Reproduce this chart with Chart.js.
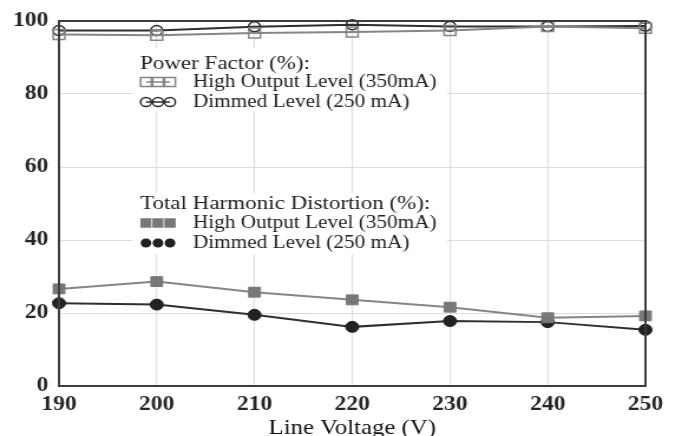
<!DOCTYPE html>
<html>
<head>
<meta charset="utf-8">
<script src="https://cdn.jsdelivr.net/npm/chart.js@4.4.1/dist/chart.umd.min.js"></script>
<style>
  html, body { margin: 0; padding: 0; background: #fff; overflow: hidden; }
  #wrap { position: absolute; left: 0; top: 0; width: 574px; height: 436px; transform: scaleX(1.18); transform-origin: 0 0; }
</style>
</head>
<body>
<div id="wrap"><canvas id="c"></canvas></div>
<script>
// ---- data ----
const voltages   = [190, 200, 210, 220, 230, 240, 250];
const pfHigh     = [96.3, 96.1, 96.7, 97.0, 97.4, 98.5, 98.0];
const pfDimmed   = [97.4, 97.4, 98.4, 99.0, 98.5, 98.5, 98.6];
const thdHigh    = [26.6, 28.6, 25.7, 23.6, 21.6, 18.7, 19.2];
const thdDimmed  = [22.7, 22.3, 19.5, 16.2, 17.8, 17.5, 15.4];
const xTicks     = [190, 200, 210, 220, 230, 240, 250];
const yTicks     = [0, 20, 40, 60, 80, 100];
const xTitle     = 'Line Voltage (V)';
const pfTitle    = 'Power Factor (%):';
const thdTitle   = 'Total Harmonic Distortion (%):';
const highLabel  = 'High Output Level (350mA)';
const dimLabel   = 'Dimmed Level (250 mA)';

const S = 1.18; // horizontal stretch of the page
const FONT = '"Liberation Serif", "Times New Roman", serif';
const GRAY = '#858585';
const DARK = '#2e2e2e';

const pts = arr => voltages.map((v, i) => ({ x: v, y: arr[i] }));

const datasets = [
  { label: 'PF ' + highLabel, data: pts(pfHigh), borderColor: GRAY, borderWidth: 2, clip: false,
    pointStyle: 'rect', pointRadius: 7, pointBackgroundColor: 'rgba(255,255,255,0)', pointBorderColor: GRAY, pointBorderWidth: 1.5 },
  { label: 'PF ' + dimLabel, data: pts(pfDimmed), borderColor: DARK, borderWidth: 2, clip: false,
    pointStyle: 'circle', pointRadius: 5, pointBackgroundColor: 'rgba(255,255,255,0)', pointBorderColor: DARK, pointBorderWidth: 1.5 },
  { label: 'THD ' + highLabel, data: pts(thdHigh), borderColor: GRAY, borderWidth: 2, clip: false,
    pointStyle: 'rect', pointRadius: 7, pointBackgroundColor: '#787878', pointBorderColor: '#787878', pointBorderWidth: 1 },
  { label: 'THD ' + dimLabel, data: pts(thdDimmed), borderColor: DARK, borderWidth: 2, clip: false,
    pointStyle: 'circle', pointRadius: 5.5, pointBackgroundColor: '#222', pointBorderColor: '#222', pointBorderWidth: 1 }
];

function drawMarker(ctx, style, x, y, r, fill, stroke) {
  ctx.save();
  ctx.fillStyle = fill; ctx.strokeStyle = stroke; ctx.lineWidth = 1.5;
  ctx.beginPath();
  if (style === 'rect') { const s = r * Math.SQRT1_2; ctx.rect(x - s, y - s, 2 * s, 2 * s); }
  else { ctx.arc(x, y, r, 0, Math.PI * 2); }
  ctx.fill(); ctx.stroke();
  ctx.restore();
}

const legendPlugin = {
  id: 'customLegend',
  beforeDatasetsDraw(chart) {
    const ctx = chart.ctx;
    const X = v => v / S;
    const blocks = [
      { box: [133, 48, 447, 112], title: pfTitle, ty: 64, rows: [
        { y: 82, text: highLabel, ds: datasets[0] },
        { y: 102, text: dimLabel, ds: datasets[1] } ], grid220: true },
      { box: [133, 193, 447, 254], title: thdTitle, ty: 204, rows: [
        { y: 223, text: highLabel, ds: datasets[2] },
        { y: 243, text: dimLabel, ds: datasets[3] } ], grid220: false }
    ];
    ctx.save();
    for (const b of blocks) {
      ctx.fillStyle = '#fff';
      ctx.fillRect(X(b.box[0]), b.box[1], X(b.box[2]) - X(b.box[0]), b.box[3] - b.box[1]);
      if (b.grid220) {
        const gx = chart.scales.x.getPixelForValue(220);
        ctx.strokeStyle = '#dcdcdc'; ctx.lineWidth = 1;
        ctx.beginPath(); ctx.moveTo(gx, b.box[1]); ctx.lineTo(gx, b.box[3]); ctx.stroke();
      }
      ctx.textBaseline = 'middle';
      ctx.textAlign = 'left';
      ctx.fillStyle = '#222';
      ctx.font = '19.5px ' + FONT;
      ctx.fillText(b.title, X(140), b.ty);
      ctx.font = '18px ' + FONT;
      for (const r of b.rows) {
        const d = r.ds;
        const open = d.pointBackgroundColor.indexOf('rgba') === 0;
        const x0 = X(146), x1 = X(170);
        const rr = d.pointStyle === 'rect' ? 6.5 : 4.6;
        const line = () => {
          ctx.strokeStyle = d.borderColor; ctx.lineWidth = 1.5;
          ctx.beginPath(); ctx.moveTo(x0, r.y); ctx.lineTo(x1, r.y); ctx.stroke();
        };
        if (!open) line();
        for (const xm of [x0, (x0 + x1) / 2, x1]) {
          drawMarker(ctx, d.pointStyle, xm, r.y, rr, open ? '#fff' : d.pointBackgroundColor, open ? d.pointBorderColor : '#fff');
          if (!open) drawMarker(ctx, d.pointStyle, xm, r.y, rr - 0.8, d.pointBackgroundColor, d.pointBackgroundColor);
        }
        if (open) line();
        ctx.fillStyle = '#222';
        ctx.fillText(r.text, X(193), r.y);
      }
    }
    ctx.restore();
  },
  afterDraw(chart) {
    const { ctx, chartArea: a } = chart;
    ctx.save();
    ctx.strokeStyle = '#3c3c3c'; ctx.lineWidth = 2;
    ctx.strokeRect(a.left, a.top, a.right - a.left, a.bottom - a.top);
    ctx.restore();
  }
};

new Chart(document.getElementById('c'), {
  type: 'line',
  data: { datasets },
  plugins: [legendPlugin],
  options: {
    responsive: true,
    maintainAspectRatio: false,
    devicePixelRatio: 1,
    animation: false,
    layout: { padding: { top: 19, right: 27, left: 0, bottom: 0 } },
    plugins: { legend: { display: false }, tooltip: { enabled: false } },
    elements: { line: { tension: 0 } },
    scales: {
      x: {
        type: 'linear', min: 190, max: 250,
        afterBuildTicks: s => { s.ticks = xTicks.map(v => ({ value: v })); },
        afterFit: s => { s.height = 50; },
        grid: { color: '#dcdcdc', lineWidth: 1, drawTicks: false },
        border: { display: true, color: '#3c3c3c', width: 2 },
        ticks: { font: { family: FONT, size: 20, weight: 'bold' }, color: '#262626', padding: 7, maxRotation: 0 },
        title: { display: true, text: xTitle, font: { family: FONT, size: 21, lineHeight: 1 }, color: '#111', padding: { top: 0, bottom: -3 } }
      },
      y: {
        min: 0, max: 100,
        afterBuildTicks: s => { s.ticks = yTicks.map(v => ({ value: v })); },
        afterFit: s => { s.width = 50; },
        grid: { color: '#dcdcdc', lineWidth: 1, drawTicks: false },
        border: { display: true, color: '#3c3c3c', width: 2 },
        ticks: { font: { family: FONT, size: 20, weight: 'bold' }, color: '#262626', padding: 9 }
      }
    }
  }
});
</script>
</body>
</html>
